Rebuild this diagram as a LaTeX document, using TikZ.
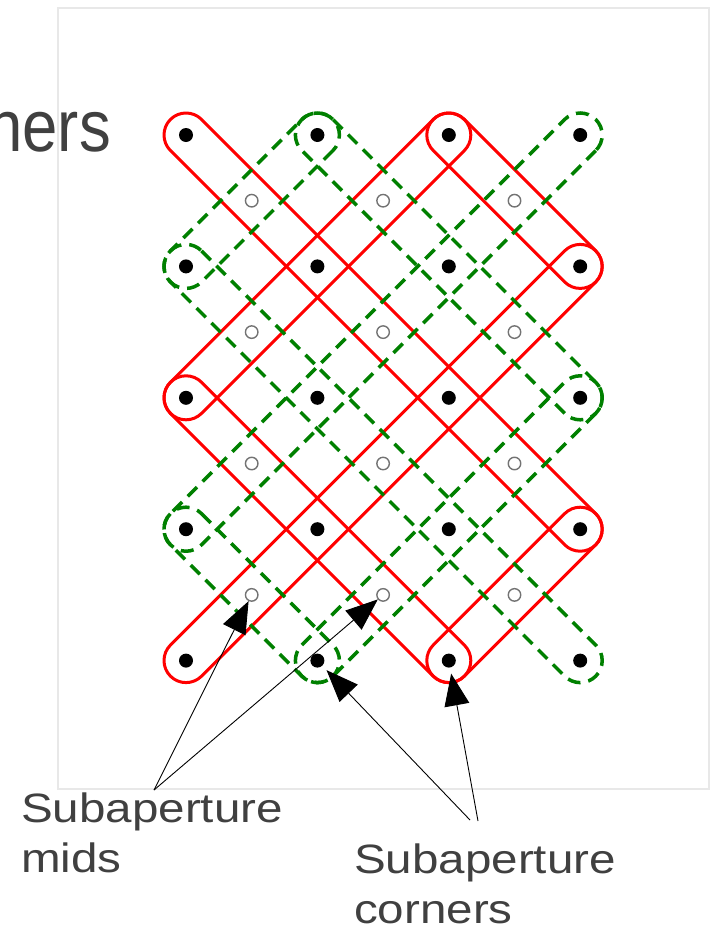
\documentclass[tikz,border=0pt]{standalone}
\usepackage{fontspec}
\setmainfont{Liberation Sans}
\newfontfamily\labelfont[FakeStretch=1.16]{Liberation Sans}
\newfontfamily\titlefont[FakeStretch=0.87]{Liberation Sans}
\usetikzlibrary{calc,arrows.meta}
\definecolor{capred}{RGB}{255,0,0}
\definecolor{capgreen}{RGB}{0,128,0}
\definecolor{txtgray}{RGB}{64,64,64}
\definecolor{framegray}{RGB}{232,232,232}
\definecolor{midgray}{RGB}{115,115,115}
\def\caprad{22pt}
\newcommand\capsule[3]{%
  \draw[#1] let \p1=($(#3)-(#2)$), \n1={atan2(\y1,\x1)} in
    ($(#2)+(\n1+90:\caprad)$) -- ($(#3)+(\n1+90:\caprad)$)
    arc[start angle=\n1+90, delta angle=-180, radius=\caprad]
    -- ($(#2)+(\n1-90:\caprad)$)
    arc[start angle=\n1-90, delta angle=-180, radius=\caprad] -- cycle;}
\tikzset{
  redcap/.style={draw=capred, line width=3pt, line join=round},
  greencap/.style={draw=capgreen, line width=3.5pt, dash pattern=on 13pt off 8pt},
  cornerdot/.style={circle, fill=black, minimum size=14pt, inner sep=0pt},
  middot/.style={circle, draw=midgray, fill=white, line width=1.4pt, minimum size=12.5pt, inner sep=0pt},
  callout/.style={draw=black, line width=0.9pt, -{Triangle[length=32pt,width=25pt]}},
  labeltext/.style={text=txtgray, inner sep=0pt, align=left, font=\labelfont\fontsize{41}{50}\selectfont},
  frame/.style={draw=framegray, line width=1.5pt}
}
\begin{document}
\begin{tikzpicture}[x=1pt,y=-1pt]
\useasboundingbox (0,0) rectangle (716,932);
\draw[frame] (58,8) rectangle (709,789);
\foreach \i in {1,...,4}{\foreach \j in {1,...,5}{
  \coordinate (p\i\j) at ({186+131.4*(\i-1)},{135+131.4*(\j-1)});}}
% red subaperture chain
\capsule{redcap}{p11}{p44}
\capsule{redcap}{p44}{p35}
\capsule{redcap}{p35}{p13}
\capsule{redcap}{p13}{p31}
\capsule{redcap}{p31}{p42}
\capsule{redcap}{p42}{p15}
% green dashed subaperture chain
\capsule{greencap}{p41}{p14}
\capsule{greencap}{p14}{p25}
\capsule{greencap}{p25}{p43}
\capsule{greencap}{p43}{p21}
\capsule{greencap}{p21}{p12}
\capsule{greencap}{p12}{p45}
% corners
\foreach \i in {1,...,4}{\foreach \j in {1,...,5}{
  \node[cornerdot] (d\i\j) at (p\i\j) {};}}
% mids
\foreach \i in {1,2,3}{\foreach \j in {1,...,4}{
  \node[middot] (m\i\j) at ({186+131.4*(\i-0.5)},{135+131.4*(\j-0.5)}) {};}}
% labels
\node[anchor=base east, inner sep=0pt, text=txtgray, font=\titlefont\fontsize{73}{80}\selectfont] (partial) at (111,151) {ners};
\node[labeltext, anchor=north west] (midslabel) at (21,793) {Subaperture\\mids};
\node[labeltext, anchor=north west] (cornlabel) at (354,844) {Subaperture\\corners};
\coordinate (midsrc) at (154,790);
\coordinate (cornsrcA) at (470,820);
\coordinate (cornsrcB) at (478,821);
\draw[callout] (midsrc) -- (m14);
\draw[callout] (midsrc) -- (m24);
\draw[callout, shorten >=6pt] (cornsrcA) -- (d25);
\draw[callout, shorten >=6pt] (cornsrcB) -- (d35);
\end{tikzpicture}
\end{document}
